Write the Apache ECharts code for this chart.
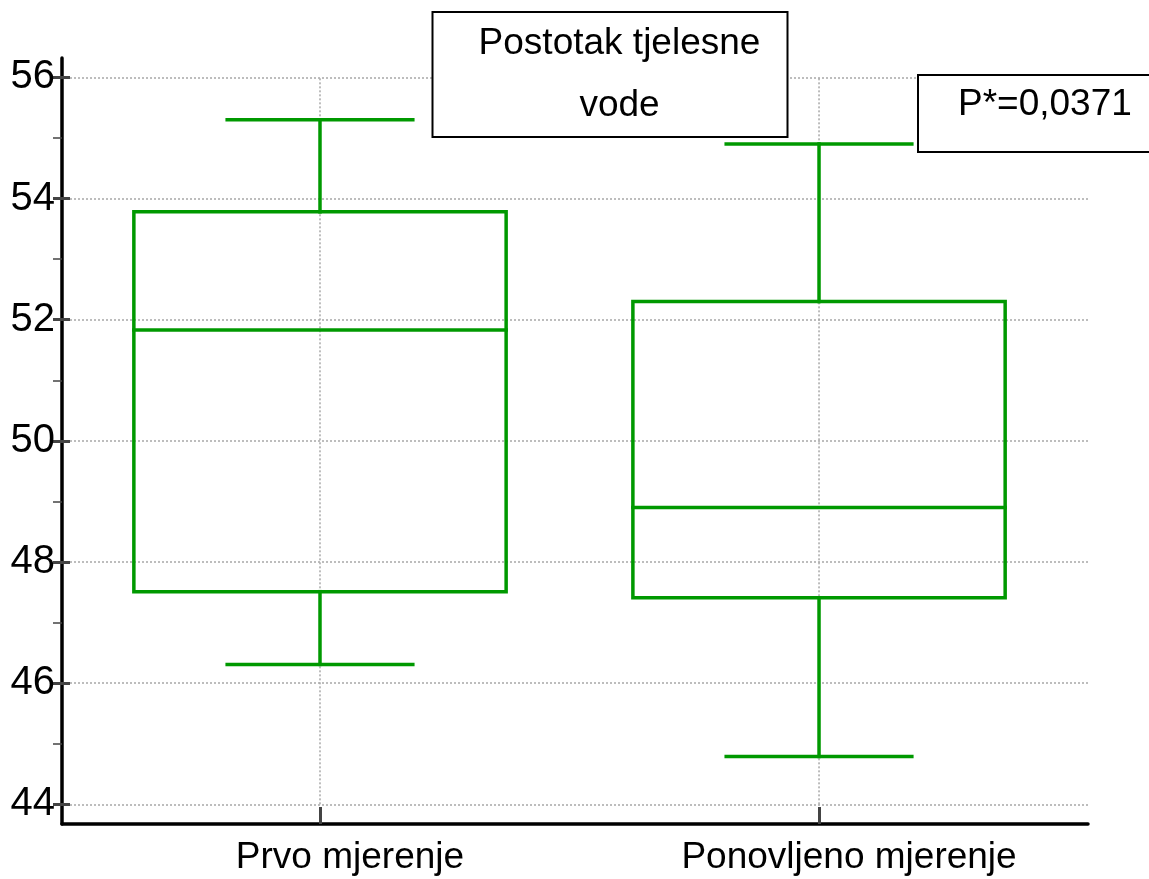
<!DOCTYPE html>
<html>
<head>
<meta charset="utf-8">
<script src="https://cdn.jsdelivr.net/npm/echarts@6/dist/echarts.min.js"></script>
<style>
html,body{margin:0;padding:0;background:#fff;}
#chart{width:1149px;height:879px;}
</style>
</head>
<body>
<div id="chart"></div>
<script>
const categories = ['Prvo mjerenje', 'Ponovljeno mjerenje'];
const categoryX = [1, 2];
const whiskerLow = [46.31, 44.79];
const q1 = [47.51, 47.41];
const median = [51.83, 48.90];
const q3 = [53.78, 52.30];
const whiskerHigh = [55.30, 54.90];
const yTicks = [44, 46, 48, 50, 52, 54, 56];
const yMinorTicks = [45, 47, 49, 51, 53, 55];
const titleText = 'Postotak tjelesne\nvode';
const pText = 'P*=0,0371';

const FONT = '"Liberation Sans", Arial, sans-serif';
const GREEN = '#009900';
const BOX_HALF = 0.373;
const CAP_HALF = 0.186;

const boxData = categoryX.map((x, i) => [x, whiskerLow[i], q1[i], median[i], q3[i], whiskerHigh[i]]);
const gridXData = categoryX.map(x => [x, yTicks[0], yTicks[yTicks.length - 1]]);

function renderBox(params, api) {
  const x = api.value(0);
  const lo = api.coord([x, api.value(1)]);
  const b1 = api.coord([x, api.value(2)]);
  const md = api.coord([x, api.value(3)]);
  const b3 = api.coord([x, api.value(4)]);
  const hi = api.coord([x, api.value(5)]);
  const unit = api.size([1, 0])[0];
  const hw = unit * BOX_HALF, cw = unit * CAP_HALF;
  const cx = lo[0];
  const style = { stroke: GREEN, lineWidth: 3.5, fill: null, lineCap: 'square' };
  return {
    type: 'group',
    children: [
      { type: 'rect', shape: { x: cx - hw, y: b3[1], width: 2 * hw, height: b1[1] - b3[1] }, style: style },
      { type: 'line', shape: { x1: cx - hw, y1: md[1], x2: cx + hw, y2: md[1] }, style: style },
      { type: 'line', shape: { x1: cx, y1: b3[1], x2: cx, y2: hi[1] }, style: style },
      { type: 'line', shape: { x1: cx - cw, y1: hi[1], x2: cx + cw, y2: hi[1] }, style: style },
      { type: 'line', shape: { x1: cx, y1: b1[1], x2: cx, y2: lo[1] }, style: style },
      { type: 'line', shape: { x1: cx - cw, y1: lo[1], x2: cx + cw, y2: lo[1] }, style: style }
    ]
  };
}

function renderVGrid(params, api) {
  const x = api.value(0);
  const a = api.coord([x, api.value(1)]);
  const b = api.coord([x, api.value(2)]);
  return {
    type: 'line',
    shape: { x1: a[0], y1: a[1], x2: b[0], y2: b[1] },
    style: { stroke: '#a8a8a8', lineWidth: 1.5, lineDash: [2, 2] }
  };
}

const yBase = {
  type: 'value', min: 43.675, max: 56.32, position: 'left'
};

const option = {
  animation: false,
  backgroundColor: '#fff',
  title: [
    {
      text: titleText, left: 573.5, top: 12, textAlign: 'center',
      padding: [1, 27, 0, 46],
      borderColor: '#000', borderWidth: 2, backgroundColor: '#fff',
      textStyle: { fontFamily: FONT, fontSize: 37, fontWeight: 'normal', color: '#000', lineHeight: 62 }
    },
    {
      text: pText, left: 918, top: 75,
      padding: [10, 60, 27, 40],
      borderColor: '#000', borderWidth: 2, backgroundColor: '#fff',
      textStyle: { fontFamily: FONT, fontSize: 37, fontWeight: 'normal', color: '#000', lineHeight: 40 }
    }
  ],
  grid: { left: 62, right: 61, top: 58, bottom: 55, containLabel: false },
  xAxis: {
    type: 'value', min: 0.483, max: 2.539,
    axisLine: { show: true, lineStyle: { color: '#000', width: 3.5 } },
    axisTick: { show: true, inside: true, length: 17, customValues: categoryX, lineStyle: { color: '#444', width: 3 } },
    axisLabel: {
      show: true, customValues: categoryX, margin: 15,
      formatter: v => categories[categoryX.indexOf(v)] || '',
      fontFamily: FONT, fontSize: 37, color: '#000', lineHeight: 37,
      padding: [0, 0, 0, 60]
    },
    splitLine: { show: false }
  },
  yAxis: [
    Object.assign({}, yBase, {
      axisLine: { show: true, onZero: false, lineStyle: { color: '#000', width: 3.5 } },
      axisTick: { show: true, inside: false, length: 9, customValues: yTicks, lineStyle: { color: '#444', width: 3 } },
      axisLabel: { show: true, customValues: yTicks, margin: 7, fontFamily: FONT, fontSize: 40, color: '#000' },
      splitLine: { show: true, lineStyle: { color: '#a8a8a8', width: 1.5, type: [2, 2] } }
    }),
    Object.assign({}, yBase, {
      axisLine: { show: false },
      axisTick: { show: true, inside: true, length: 8, customValues: yTicks, lineStyle: { color: '#444', width: 3 } },
      axisLabel: { show: false },
      splitLine: { show: false }
    }),
    Object.assign({}, yBase, {
      axisLine: { show: false },
      axisTick: { show: true, inside: false, length: 9, customValues: yMinorTicks, lineStyle: { color: '#444', width: 1.5 } },
      axisLabel: { show: false },
      splitLine: { show: false }
    })
  ],
  series: [
    {
      type: 'custom', renderItem: renderVGrid, data: gridXData, z: 1, silent: true,
      encode: { x: 0, y: [1, 2] }
    },
    {
      type: 'custom', renderItem: renderBox, data: boxData, z: 3, silent: true,
      encode: { x: 0, y: [1, 2, 3, 4, 5] }
    }
  ]
};

const chart = echarts.init(document.getElementById('chart'), null, { renderer: 'canvas' });
chart.setOption(option);
</script>
</body>
</html>
